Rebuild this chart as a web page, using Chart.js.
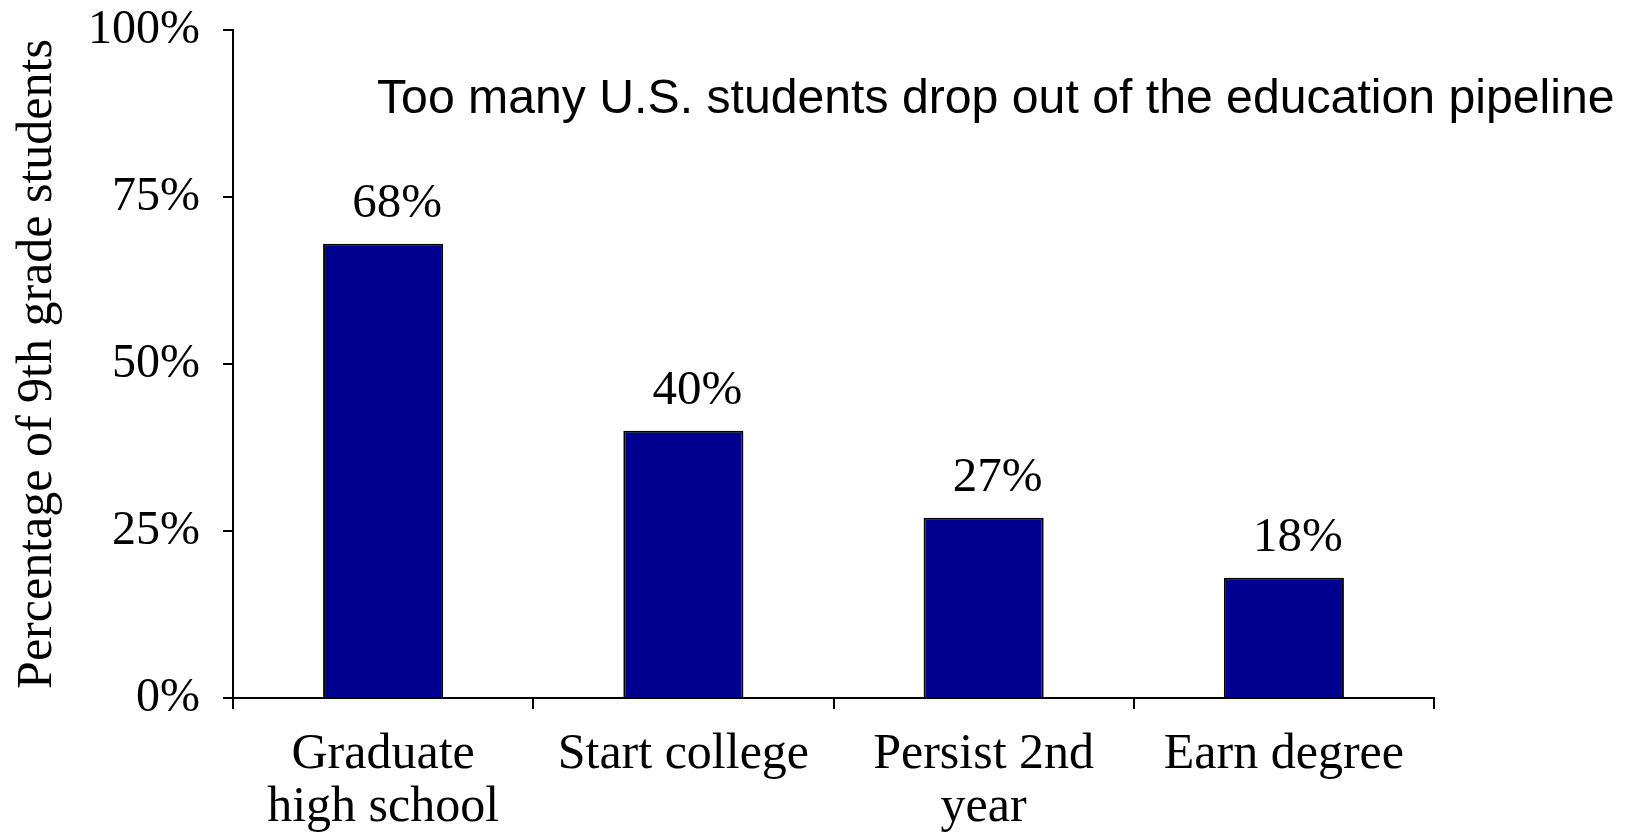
<!DOCTYPE html>
<html>
<head>
<meta charset="utf-8">
<script src="https://cdn.jsdelivr.net/npm/chart.js@4/dist/chart.umd.min.js"></script>
<style>
  html, body { margin: 0; padding: 0; background: #fff; }
  #wrap { width: 1631px; height: 835px; }
</style>
</head>
<body>
<div id="wrap"><canvas id="bar-chart" width="1631" height="835"></canvas></div>
<script>
// data
var categories = [["Graduate", "high school"], "Start college", ["Persist 2nd", "year"], "Earn degree"];
var percentValues = [68, 40, 27, 18];
var yTicks = [0, 25, 50, 75, 100];
var chartNote = "Too many U.S. students drop out of the education pipeline";
var yTitle = "Percentage of 9th grade students";

var serif = "'Liberation Serif', 'Times New Roman', serif";

// value labels above bars + the note text
var labelPlugin = {
  id: 'labelPlugin',
  afterDatasetsDraw: function (chart) {
    var ctx = chart.ctx;
    var meta = chart.getDatasetMeta(0);
    ctx.save();
    ctx.fillStyle = '#000';
    ctx.font = '49px ' + serif;
    ctx.textAlign = 'center';
    ctx.textBaseline = 'alphabetic';
    meta.data.forEach(function (bar, i) {
      ctx.fillText(percentValues[i] + '%', bar.x + 14, bar.y - 27);
    });
    ctx.font = "48.2px 'Liberation Sans', Arial, sans-serif";
    ctx.textAlign = 'left';
    var area = chart.chartArea;
    ctx.fillText(chartNote, area.left + 144, area.top + 83);
    ctx.restore();
  }
};

new Chart(document.getElementById("bar-chart"), {
  type: 'bar',
  data: {
    labels: categories,
    datasets: [{
      data: percentValues,
      backgroundColor: '#000090',
      borderColor: '#000',
      borderWidth: 2,
      barPercentage: 0.4,
      categoryPercentage: 1.0
    }]
  },
  plugins: [labelPlugin],
  options: {
    responsive: false,
    animation: false,
    layout: { padding: { top: 30, right: 197, left: 0, bottom: 0 } },
    plugins: {
      legend: { display: false },
      tooltip: { enabled: false },
      title: { display: false }
    },
    scales: {
      x: {
        grid: { display: true, drawOnChartArea: false, offset: true, color: '#000', lineWidth: 2, tickLength: 11 },
        border: { display: true, color: '#000', width: 2 },
        ticks: {
          color: '#000',
          font: { family: serif, size: 50, lineHeight: 1.05 },
          maxRotation: 0,
          autoSkip: false,
          padding: 20
        },
        afterFit: function (scale) { scale.height = 137; }
      },
      y: {
        min: 0,
        max: 100,
        afterBuildTicks: function (scale) {
          scale.ticks = yTicks.map(function (v) { return { value: v }; });
        },
        grid: { display: true, drawOnChartArea: false, color: '#000', lineWidth: 2, tickLength: 10 },
        border: { display: true, color: '#000', width: 2 },
        ticks: {
          color: '#000',
          font: { family: serif, size: 48 },
          padding: 23,
          callback: function (v) { return v + '%'; }
        },
        title: {
          display: true,
          text: yTitle,
          color: '#000',
          font: { family: serif, size: 50, lineHeight: 1.2 },
          padding: { top: 8, bottom: 0 }
        },
        afterFit: function (scale) {
          scale.width = 233;
          scale.paddingTop = 0;
          scale.paddingBottom = 0;
        }
      }
    }
  }
});
</script>
</body>
</html>
